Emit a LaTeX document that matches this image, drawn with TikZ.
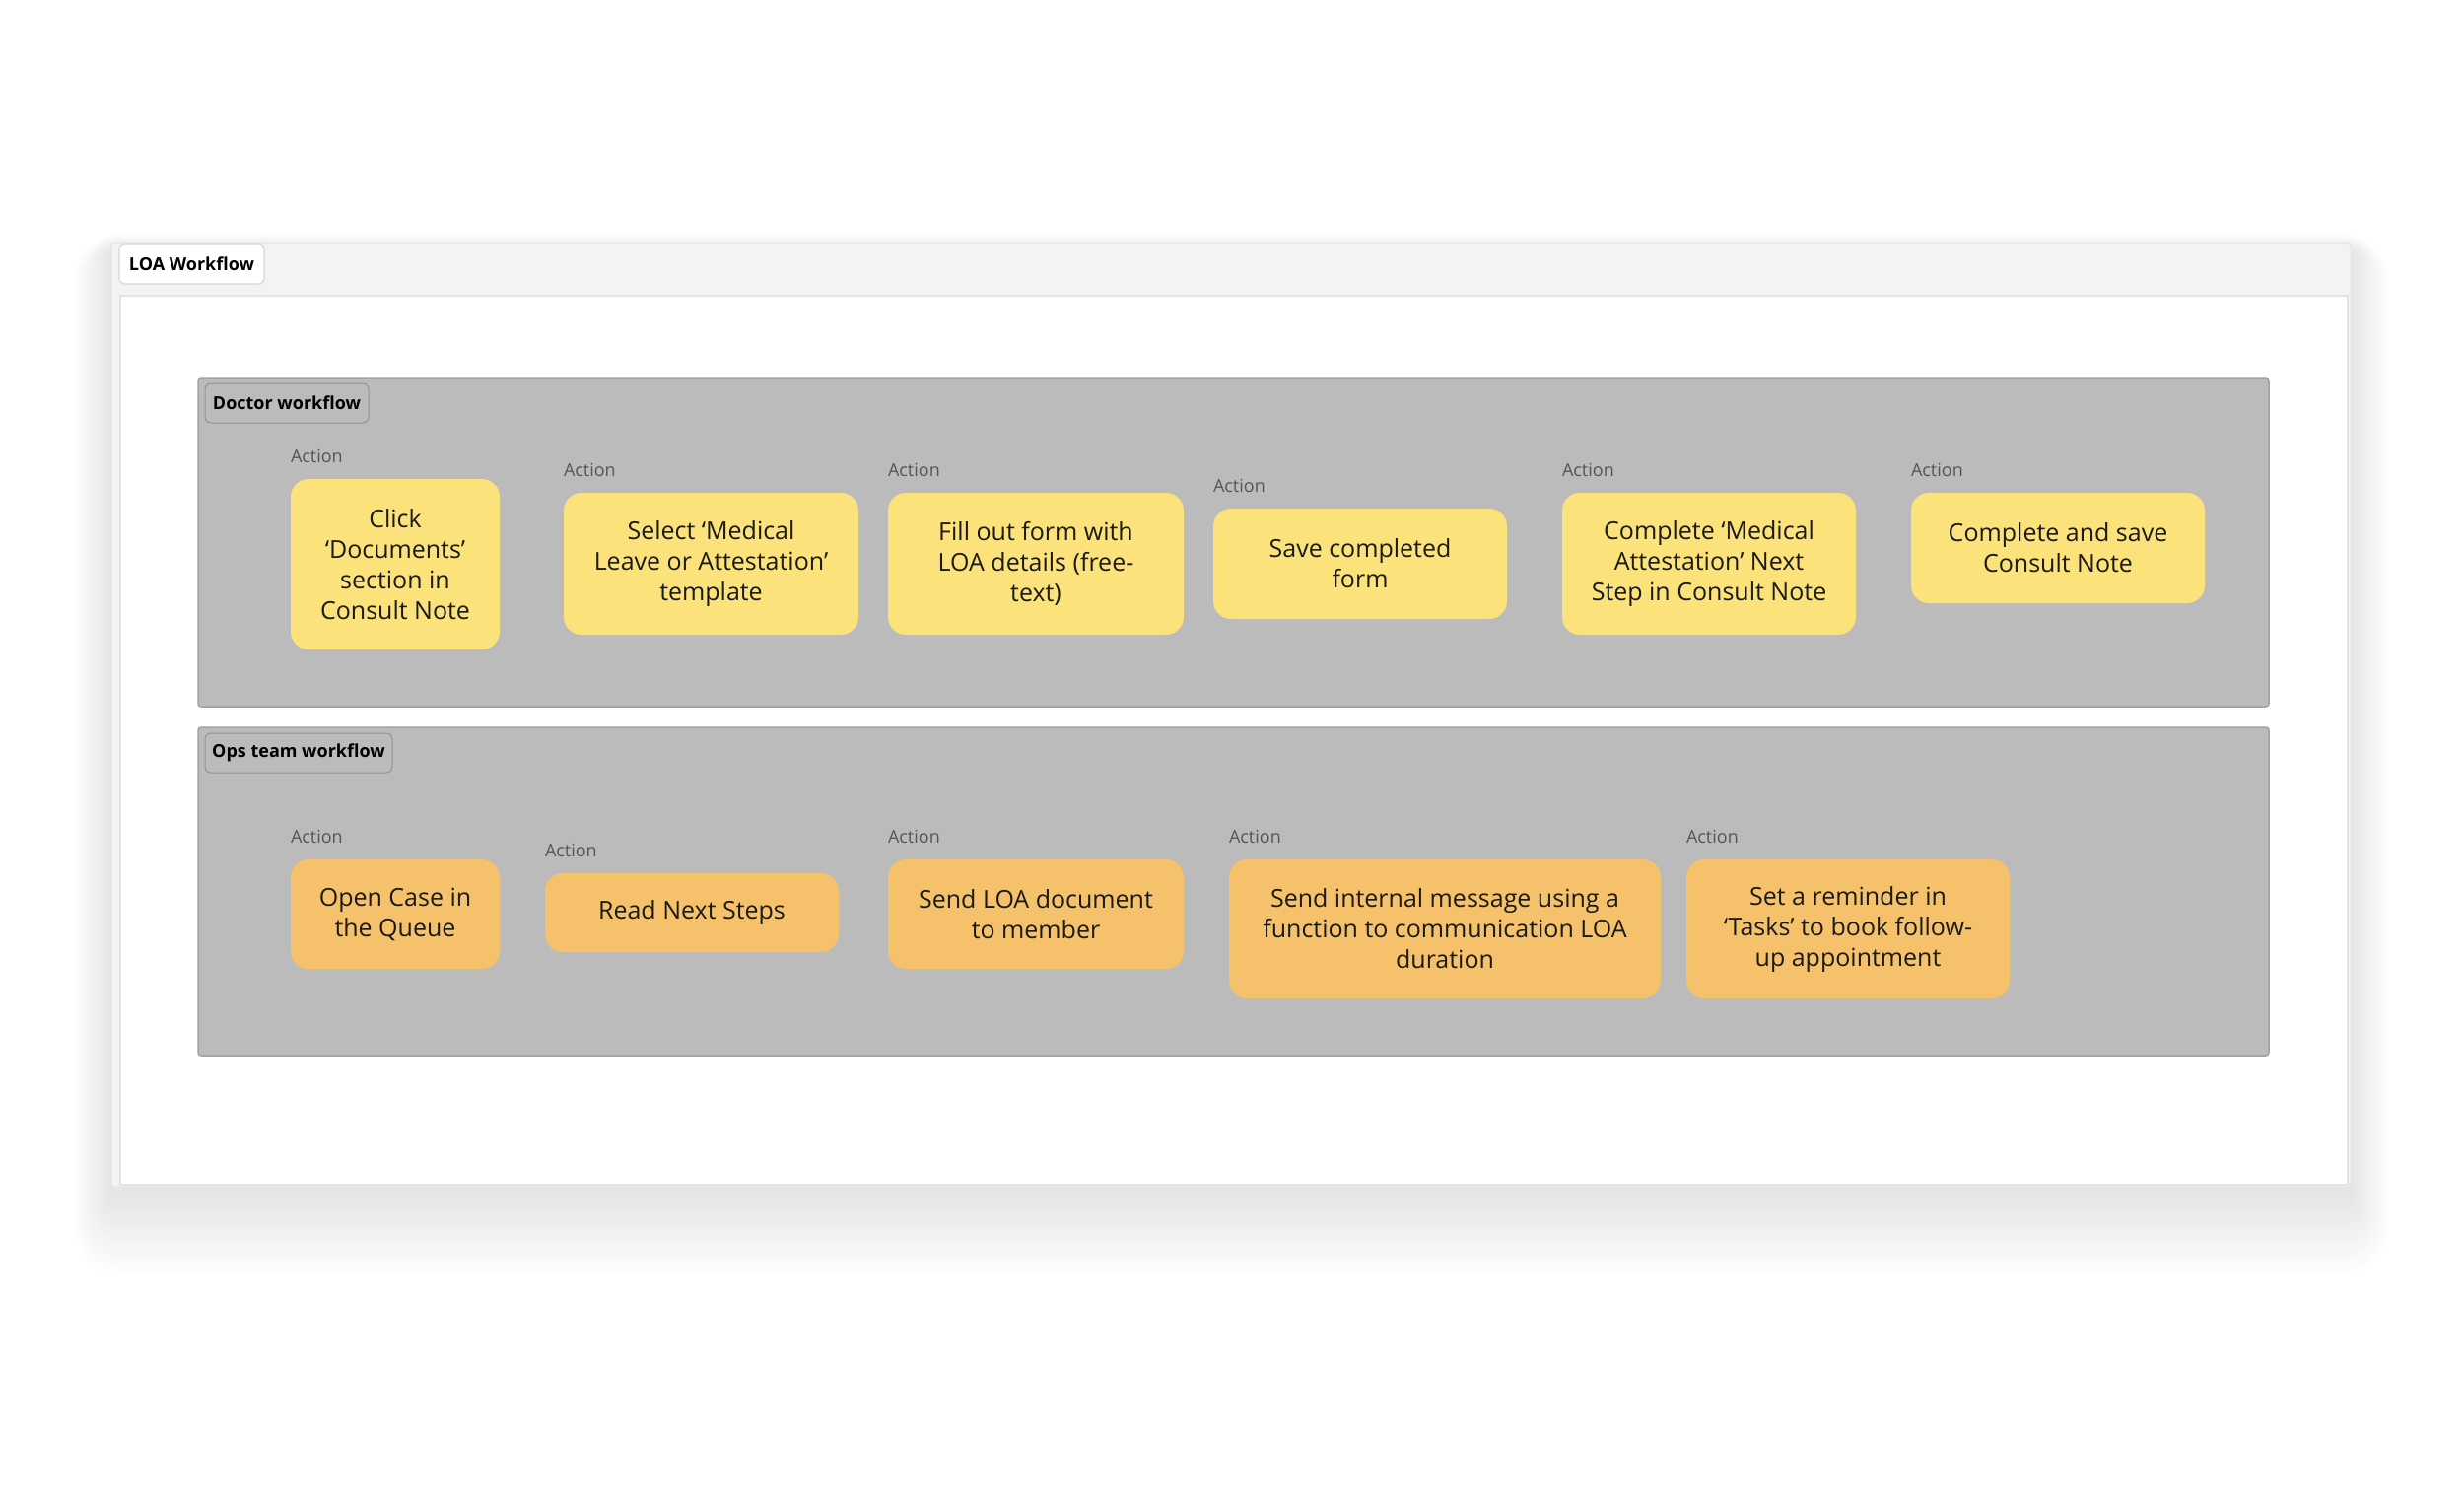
\documentclass[tikz,border=0pt]{standalone}
\usepackage{fontspec}
\setmainfont{Open Sans}
\definecolor{ylw}{HTML}{FBE27A}
\definecolor{org}{HTML}{F5C26B}
\definecolor{lanefill}{HTML}{BBBBBB}
\definecolor{laneedge}{HTML}{A2A2A2}
\definecolor{framefill}{HTML}{F3F3F3}
\definecolor{frameedge}{HTML}{E4E4E4}
\definecolor{tagedge}{HTML}{D6D6D6}
\definecolor{txt}{HTML}{1A1A1A}
\definecolor{acttxt}{HTML}{555555}
\begin{document}
\begin{tikzpicture}[x=1pt,y=-1pt,
  card/.style={rounded corners=18pt, inner sep=0pt, align=center, text=txt,
    font=\fontsize{25}{31}\selectfont},
  ybox/.style={card, fill=ylw},
  obox/.style={card, fill=org},
  act/.style={anchor=base west, inner sep=0pt, text=acttxt, font=\fontsize{18}{20}\selectfont},
  lane/.style={fill=lanefill, draw=laneedge, line width=1.5pt, rounded corners=3pt, inner sep=0pt},
  lanetag/.style={fill=lanefill, draw=laneedge!90!black, line width=1pt, rounded corners=6pt,
    inner sep=0pt, font=\bfseries\fontsize{18}{20}\selectfont, text=black},
  frametag/.style={fill=white, draw=tagedge, line width=1.2pt, rounded corners=6pt,
    inner sep=0pt, font=\bfseries\fontsize{18}{20}\selectfont, text=black},
  shadowlayer/.style={fill=black, opacity=0.0045}
]
\useasboundingbox (0,0) rectangle (2500,1524);
\fill[white] (0,0) rectangle (2500,1524);

% soft shadow of the frame
\foreach \i in {1,...,26}{
  \fill[shadowlayer, rounded corners=\i*2pt]
    (113-\i*1.5, 255-\i*0.7) rectangle (2385+\i*1.5, 1212+\i*3.2);
}
% outer frame
\fill[framefill, draw=frameedge, line width=1pt, rounded corners=3pt]
  (113,247) rectangle (2385,1204);
\node[fill=white, draw=frameedge, line width=1.5pt, inner sep=0pt, minimum width=2260pt,
  minimum height=902pt] (panel) at (1252,751) {};
\node[frametag, minimum width=147pt, minimum height=40pt] (loatag) at (194.5,268) {LOA Workflow};

% lanes
\node[lane, minimum width=2101pt, minimum height=333pt] (doclane) at (1251.5,550.5) {};
\node[lane, minimum width=2101pt, minimum height=333pt] (opslane) at (1251.5,904.5) {};
\node[lanetag, minimum width=166pt, minimum height=40pt] (doctag) at (291,409) {Doctor workflow};
\node[lanetag, minimum width=190pt, minimum height=40pt] (opstag) at (303,764) {Ops team workflow};

% doctor actions
\node[ybox, minimum width=212pt, minimum height=173pt] (d1) at (401,572.5)
  {Click\\‘Documents’\\section in\\Consult Note};
\node[ybox, minimum width=299pt, minimum height=144pt] (d2) at (721.5,572)
  {Select ‘Medical\\Leave or Attestation’\\template};
\node[ybox, minimum width=300pt, minimum height=144pt] (d3) at (1051,572)
  {Fill out form with\\LOA details (free-\\text)};
\node[ybox, minimum width=298pt, minimum height=112pt] (d4) at (1380,572)
  {Save completed\\form};
\node[ybox, minimum width=298pt, minimum height=144pt] (d5) at (1734,572)
  {Complete ‘Medical\\Attestation’ Next\\Step in Consult Note};
\node[ybox, minimum width=298pt, minimum height=112pt] (d6) at (2088,556)
  {Complete and save\\Consult Note};

% ops actions
\node[obox, minimum width=212pt, minimum height=111pt] (o1) at (401,927.5)
  {Open Case in\\the Queue};
\node[obox, minimum width=298pt, minimum height=80pt] (o2) at (702,926)
  {Read Next Steps};
\node[obox, minimum width=300pt, minimum height=111pt] (o3) at (1051,927.5)
  {Send LOA document\\to member};
\node[obox, minimum width=438pt, minimum height=141pt] (o4) at (1466,942.5)
  {Send internal message using a\\function to communication LOA\\duration};
\node[obox, minimum width=328pt, minimum height=141pt] (o5) at (1875,942.5)
  {Set a reminder in\\‘Tasks’ to book follow-\\up appointment};

% action labels
\foreach \b in {d1,d2,d3,d4,d5,d6,o1,o2,o3,o4,o5}{
  \node[act] (lab-\b) at ([yshift=16pt]\b.north west) {Action};
}
\end{tikzpicture}
\end{document}
